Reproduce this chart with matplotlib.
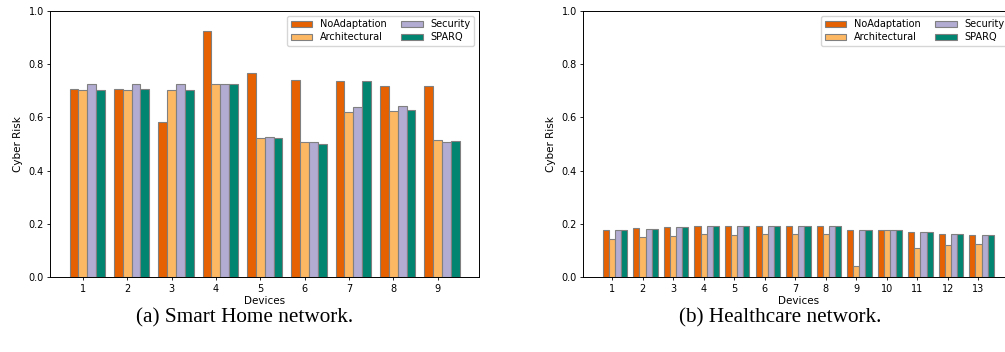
import matplotlib
matplotlib.use("Agg")
import matplotlib.pyplot as plt
import numpy as np

# Cyber risk per device for each strategy
series_names = ["NoAdaptation", "Architectural", "Security", "SPARQ"]
colors = ["#e66101", "#fdb863", "#b2abd2", "#018571"]

home_devices = [1, 2, 3, 4, 5, 6, 7, 8, 9]
home_noadapt = [0.707, 0.707, 0.582, 0.923, 0.767, 0.740, 0.738, 0.717, 0.717]
home_arch = [0.702, 0.702, 0.702, 0.724, 0.523, 0.508, 0.621, 0.625, 0.514]
home_sec = [0.725, 0.725, 0.725, 0.724, 0.527, 0.507, 0.639, 0.642, 0.507]
home_sparq = [0.702, 0.707, 0.702, 0.724, 0.522, 0.501, 0.738, 0.629, 0.513]

health_devices = [1, 2, 3, 4, 5, 6, 7, 8, 9, 10, 11, 12, 13]
health_noadapt = [0.177, 0.185, 0.190, 0.192, 0.192, 0.192, 0.192, 0.192, 0.177, 0.177, 0.169, 0.164, 0.158]
health_arch = [0.142, 0.151, 0.156, 0.161, 0.159, 0.161, 0.161, 0.161, 0.041, 0.177, 0.111, 0.120, 0.126]
health_sec = [0.177, 0.183, 0.190, 0.192, 0.192, 0.192, 0.192, 0.192, 0.177, 0.177, 0.169, 0.164, 0.158]
health_sparq = [0.177, 0.183, 0.189, 0.192, 0.192, 0.192, 0.192, 0.192, 0.177, 0.177, 0.169, 0.164, 0.158]

FS = 7
W = 0.2


def draw(ax, devices, values):
    x = np.arange(len(devices))
    for i, (name, vals) in enumerate(zip(series_names, values)):
        ax.bar(x + i * W, vals, W, color=colors[i], edgecolor="grey",
               linewidth=0.8, label=name)
    ax.set_xticks(x + W)
    ax.set_xticklabels(devices)
    ax.set_ylim(0, 1.0)
    ax.set_yticks([0.0, 0.2, 0.4, 0.6, 0.8, 1.0])
    ax.tick_params(labelsize=FS, length=2.5, width=0.6, pad=2)
    ax.set_xlabel("Devices", fontsize=FS + 0.5, labelpad=2)
    ax.set_ylabel("Cyber Risk", fontsize=FS + 0.5, labelpad=4)
    for s in ax.spines.values():
        s.set_linewidth(0.7)
    ax.legend(loc="upper right", ncol=2, fontsize=FS, handlelength=2.2,
              columnspacing=1.5, borderpad=0.4, labelspacing=0.3)


fig = plt.figure(figsize=(10.05, 3.52), dpi=100)
ax1 = fig.add_axes([50 / 1005, 74.7 / 352, 429.3 / 1005, 266.6 / 352])
ax2 = fig.add_axes([583.3 / 1005, 74.7 / 352, 430 / 1005, 266.6 / 352])

draw(ax1, home_devices, [home_noadapt, home_arch, home_sec, home_sparq])
draw(ax2, health_devices, [health_noadapt, health_arch, health_sec, health_sparq])

fig.text(245 / 1005, 1 - 318 / 352, "(a) Smart Home network.", ha="center",
         va="center", fontsize=15.3, family="Liberation Serif")
fig.text(780 / 1005, 1 - 318 / 352, "(b) Healthcare network.", ha="center",
         va="center", fontsize=15.3, family="Liberation Serif")

fig.savefig("out.png", dpi=100)
